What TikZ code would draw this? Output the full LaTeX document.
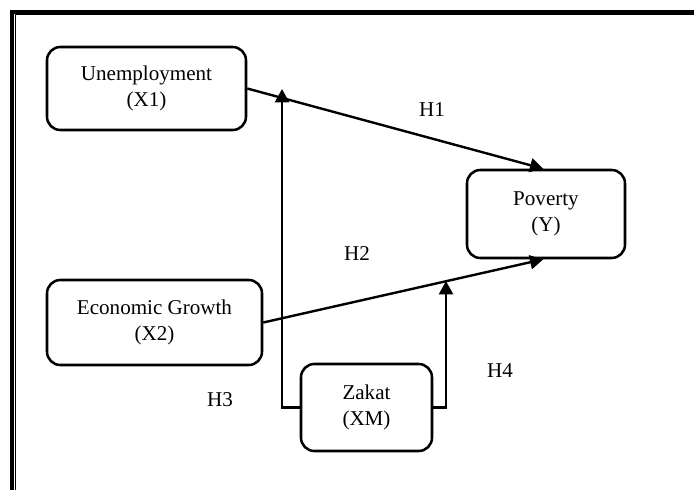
\documentclass[tikz,border=0pt]{standalone}
\usepackage{fontspec}
\setmainfont{Liberation Serif}
\usetikzlibrary{arrows.meta}
\begin{document}
\begin{tikzpicture}[x=0.75pt,y=-0.75pt,
  varbox/.style={draw=black,line width=1.9pt,rounded corners=10pt,align=center,
    font=\fontsize{15.8}{19.5}\selectfont,inner sep=0pt},
  link/.style={line width=1.8pt,-{Triangle[length=10pt,width=10.5pt]}},
  hyp/.style={font=\fontsize{15.8}{19.5}\selectfont,inner sep=0pt}]
\useasboundingbox (0,0) rectangle (694,490);
% frame
\draw[line width=3pt] (12,490) -- (12,11.5) -- (694,11.5);
\draw[line width=0.8pt] (15.2,490) -- (15.2,14.8) -- (694,14.8);
% nodes
\node[varbox,minimum width=149.25pt,minimum height=62.25pt] (U) at (146.5,88.5) {Unemployment\\(X1)};
\node[varbox,minimum width=161.25pt,minimum height=63.75pt] (E) at (154.5,322.5) {Economic Growth\\(X2)};
\node[varbox,minimum width=98.25pt,minimum height=65.25pt] (Z) at (366.5,407.5) {Zakat\\(XM)};
\node[varbox,minimum width=118.5pt,minimum height=66pt] (P) at (546,214) {Poverty\\(Y)};
% connectors
\coordinate (t3) at (282,89);
\coordinate (t4) at (446,281);
\draw[link] (U.east) -- ([xshift=-2pt]P.north);
\draw[link] (E.east) -- ([xshift=-2pt]P.south);
\draw[link] (Z.west) -| (t3);
\draw[link] (Z.east) -| (t4);
% labels
\node[hyp] (h1) at (432,110) {H1};
\node[hyp] (h2) at (357,254) {H2};
\node[hyp] (h3) at (220,400) {H3};
\node[hyp] (h4) at (500,371) {H4};
\end{tikzpicture}
\end{document}
